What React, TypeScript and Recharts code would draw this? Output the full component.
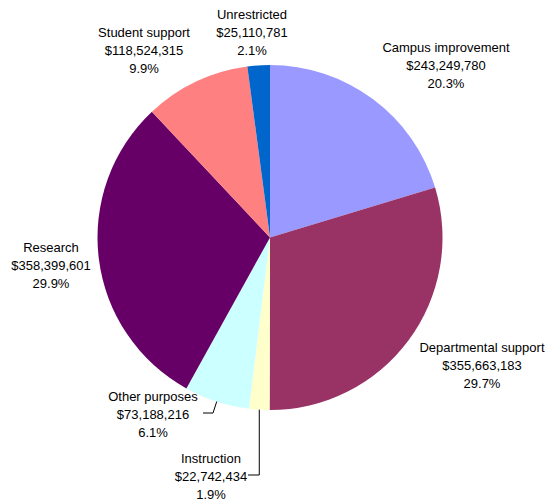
import { Cell, Pie, PieChart } from "recharts";

const categories = [
  "Campus improvement",
  "Departmental support",
  "Instruction",
  "Other purposes",
  "Research",
  "Student support",
  "Unrestricted",
];
const amounts = [
  243249780, 355663183, 22742434, 73188216, 358399601, 118524315, 25110781,
];
const percentLabels = ["20.3%", "29.7%", "1.9%", "6.1%", "29.9%", "9.9%", "2.1%"];
const sliceColors = [
  "#9999ff",
  "#993366",
  "#ffffcc",
  "#ccffff",
  "#660066",
  "#ff8080",
  "#0066cc",
];

// label anchor (center x, first line center y) in chart pixels
const LABEL_POS = [
  { x: 446, y: 47 },
  { x: 482, y: 347 },
  { x: 211, y: 458 },
  { x: 153, y: 396 },
  { x: 51, y: 247 },
  { x: 144, y: 32 },
  { x: 252, y: 14 },
];

const WIDTH = 549;
const HEIGHT = 502;
const LINE_H = 18;
const FONT = "'Liberation Sans', Arial, sans-serif";
const RAD = Math.PI / 180;

const chartData = categories.map((name, i) => ({
  name,
  value: amounts[i],
  pct: percentLabels[i],
}));

const money = new Intl.NumberFormat("en-US");

function renderLabel(props: any) {
  const { cx, cy, midAngle, outerRadius, index } = props;
  const pos = LABEL_POS[index];
  const ex = cx + outerRadius * Math.cos(-midAngle * RAD);
  const ey = cy + outerRadius * Math.sin(-midAngle * RAD);
  const y2 = pos.y + LINE_H;
  let leader = null;
  if (index === 3) {
    leader = (
      <polyline
        points={`${pos.x + 50},${y2 - 1} ${pos.x + 60},${y2 - 1} ${ex},${ey}`}
        fill="none"
        stroke="#000"
        strokeWidth={1}
      />
    );
  } else if (index === 2) {
    leader = (
      <polyline
        points={`${pos.x + 37},${y2 - 1} ${ex},${y2 - 1} ${ex},${ey}`}
        fill="none"
        stroke="#000"
        strokeWidth={1}
      />
    );
  }
  const lines = [categories[index], "$" + money.format(amounts[index]), percentLabels[index]];
  return (
    <g key={`lbl-${index}`}>
      {leader}
      {lines.map((t, k) => (
        <text
          key={k}
          x={pos.x}
          y={pos.y + k * LINE_H + 4.5}
          textAnchor="middle"
          fill="#000"
          fontSize={13}
          fontFamily={FONT}
        >
          {t}
        </text>
      ))}
    </g>
  );
}

export default function App() {
  return (
    <div
      style={{
        position: "absolute",
        left: 0,
        top: 0,
        width: WIDTH,
        height: HEIGHT,
        background: "#fff",
      }}
    >
      <PieChart width={WIDTH} height={HEIGHT} margin={{ top: 0, right: 0, bottom: 0, left: 0 }}>
        <Pie
          data={chartData}
          dataKey="value"
          nameKey="name"
          cx={270}
          cy={237.5}
          innerRadius={0}
          outerRadius={172.5}
          startAngle={90}
          endAngle={-270}
          stroke="none"
          label={renderLabel}
          labelLine={false}
          isAnimationActive={false}
        >
          {chartData.map((d, i) => (
            <Cell key={d.name} fill={sliceColors[i]} />
          ))}
        </Pie>
      </PieChart>
    </div>
  );
}
